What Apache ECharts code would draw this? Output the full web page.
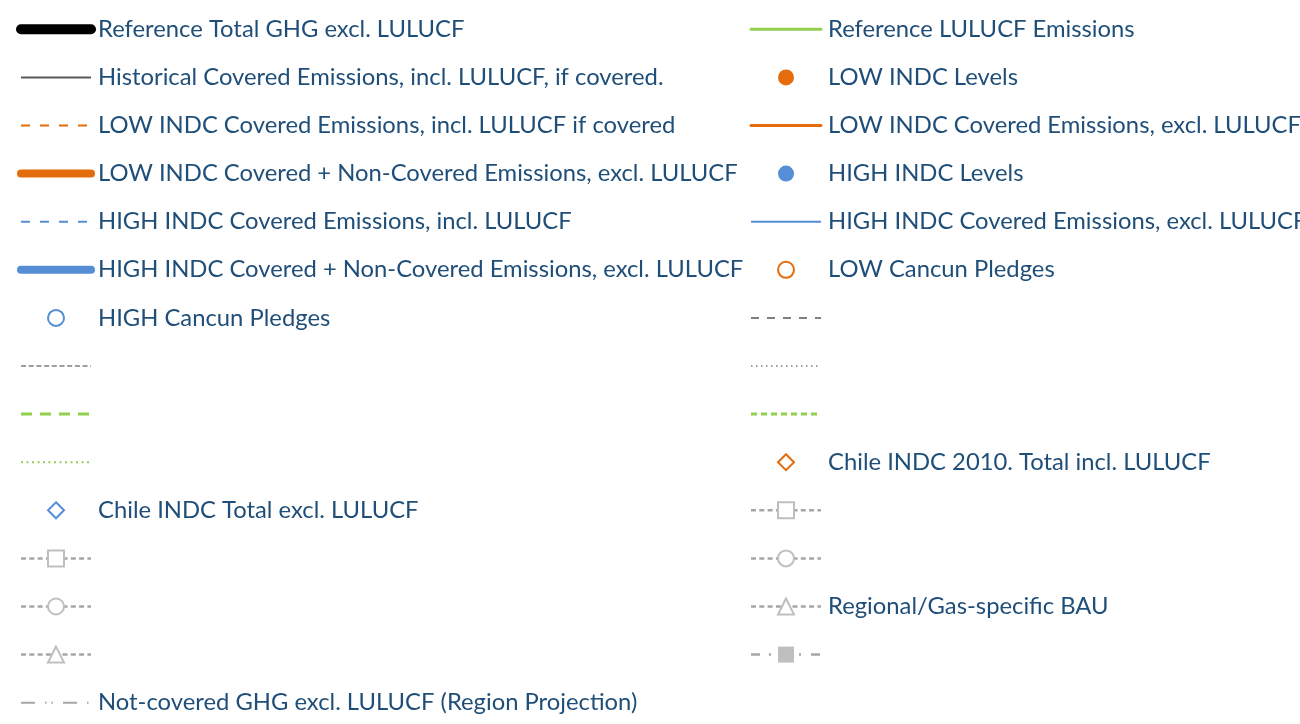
<!DOCTYPE html>
<html><head><meta charset="utf-8">
<script src="https://cdn.jsdelivr.net/npm/echarts@6/dist/echarts.min.js"></script>
<style>html,body{margin:0;padding:0;background:#fff}#c{width:1300px;height:724px}</style>
</head><body><div id="c"></div>
<script>
// Legend entry labels (left column, right column); '' = entry without text
const leftLabels = [
  'Reference Total GHG excl. LULUCF',
  'Historical Covered Emissions, incl. LULUCF, if covered.',
  'LOW INDC Covered Emissions, incl. LULUCF if covered',
  'LOW INDC Covered + Non-Covered Emissions, excl. LULUCF',
  'HIGH INDC Covered Emissions, incl. LULUCF',
  'HIGH INDC Covered + Non-Covered Emissions, excl. LULUCF',
  'HIGH Cancun Pledges',
  '', '', '',
  'Chile INDC Total excl. LULUCF',
  '', '', '',
  'Not-covered GHG excl. LULUCF (Region Projection)'
];
const rightLabels = [
  'Reference LULUCF Emissions',
  'LOW INDC Levels',
  'LOW INDC Covered Emissions, excl. LULUCF',
  'HIGH INDC Levels',
  'HIGH INDC Covered Emissions, excl. LULUCF',
  'LOW Cancun Pledges',
  '', '', '',
  'Chile INDC 2010. Total incl. LULUCF',
  '', '',
  'Regional/Gas-specific BAU',
  ''
];

// Styles (kept apart from the labels)
const ORANGE = '#E46C0A', BLUE = '#558ED5', GREEN = '#92D050', DGRAY = '#7F7F7F', MGRAY = '#A6A6A6', LGRAY = '#BFBFBF';
const leftStyles = [
  {line: {color: '#000000', width: 10, cap: 'round'}},
  {line: {color: '#595959', width: 2}},
  {line: {color: ORANGE, width: 2, type: [9, 10]}},
  {line: {color: ORANGE, width: 8, cap: 'round'}},
  {line: {color: BLUE, width: 2, type: [9, 10]}},
  {line: {color: BLUE, width: 8, cap: 'round'}},
  {symbol: 'emptyCircle', color: BLUE},
  {line: {color: DGRAY, width: 1.5, type: [5, 2.7]}},
  {line: {color: GREEN, width: 3, type: [11, 8]}},
  {line: {color: GREEN, width: 2, type: [2, 3.5]}},
  {symbol: 'emptyDiamond', color: BLUE},
  {line: {color: MGRAY, width: 2.5, type: [5, 3.3]}, symbol: 'emptyRect', color: LGRAY},
  {line: {color: MGRAY, width: 2.5, type: [5, 3.3]}, symbol: 'emptyCircle', color: LGRAY},
  {line: {color: MGRAY, width: 2.5, type: [5, 3.3]}, symbol: 'emptyTriangle', color: LGRAY},
  {line: {color: MGRAY, width: 2, type: [14, 10, 1.5, 5, 1.5, 10]}}
];
const rightStyles = [
  {line: {color: GREEN, width: 3, cap: 'round'}},
  {symbol: 'circle', color: ORANGE},
  {line: {color: ORANGE, width: 3, cap: 'round'}},
  {symbol: 'circle', color: BLUE},
  {line: {color: BLUE, width: 2}},
  {symbol: 'emptyCircle', color: ORANGE},
  {line: {color: DGRAY, width: 2, type: [8, 8]}},
  {line: {color: DGRAY, width: 1.5, type: [1.5, 3.5]}},
  {line: {color: GREEN, width: 3, type: [6, 4]}},
  {symbol: 'emptyDiamond', color: ORANGE},
  {line: {color: MGRAY, width: 2.5, type: [5, 3.3]}, symbol: 'emptyRect', color: LGRAY},
  {line: {color: MGRAY, width: 2.5, type: [5, 3.3]}, symbol: 'emptyCircle', color: LGRAY},
  {line: {color: MGRAY, width: 2.5, type: [5, 3.3]}, symbol: 'emptyTriangle', color: LGRAY},
  {line: {color: MGRAY, width: 2.5, type: [9, 9, 2, 10]}, symbol: 'rect', color: LGRAY}
];

const labelOf = {};
const series = [];
function addSeries(prefix, labels, styles) {
  const items = [];
  labels.forEach((lab, i) => {
    const name = prefix + i;
    labelOf[name] = lab === '' ? '\u00a0' : lab;
    const st = styles[i];
    const item = {name: name};
    if (!st.symbol) item.itemStyle = {opacity: 0};
    items.push(item);
    series.push({
      type: 'line',
      name: name,
      data: [],
      symbol: st.symbol || 'circle',
      symbolSize: 16,
      itemStyle: {color: st.color || (st.line && st.line.color)},
      lineStyle: st.line ? st.line : {width: 0}
    });
  });
  return items;
}
const leftItems = addSeries('L', leftLabels, leftStyles);
const rightItems = addSeries('R', rightLabels, rightStyles);

function makeLegend(items, left) {
  return {
    orient: 'vertical', left: left, top: 17.3, height: 720, padding: 0,
    itemGap: 24.1, itemWidth: 70, itemHeight: 20,
    selectedMode: false, data: items,
    formatter: n => labelOf[n],
    lineStyle: {width: 'inherit', type: 'inherit', cap: 'inherit'},
    textStyle: {fontFamily: 'Lato', fontSize: 23.8, color: '#1F4E79', padding: [0, 0, 0, 2]}
  };
}

const chart = echarts.init(document.getElementById('c'), null, {renderer: 'canvas'});
chart.setOption({
  animation: false,
  backgroundColor: '#ffffff',
  grid: {left: 0, right: 0, top: 0, bottom: 0, show: false},
  xAxis: {type: 'category', show: false, data: []},
  yAxis: {type: 'value', show: false},
  legend: [makeLegend(leftItems, 16), makeLegend(rightItems, 749.5)],
  series: series
});
</script></body></html>
